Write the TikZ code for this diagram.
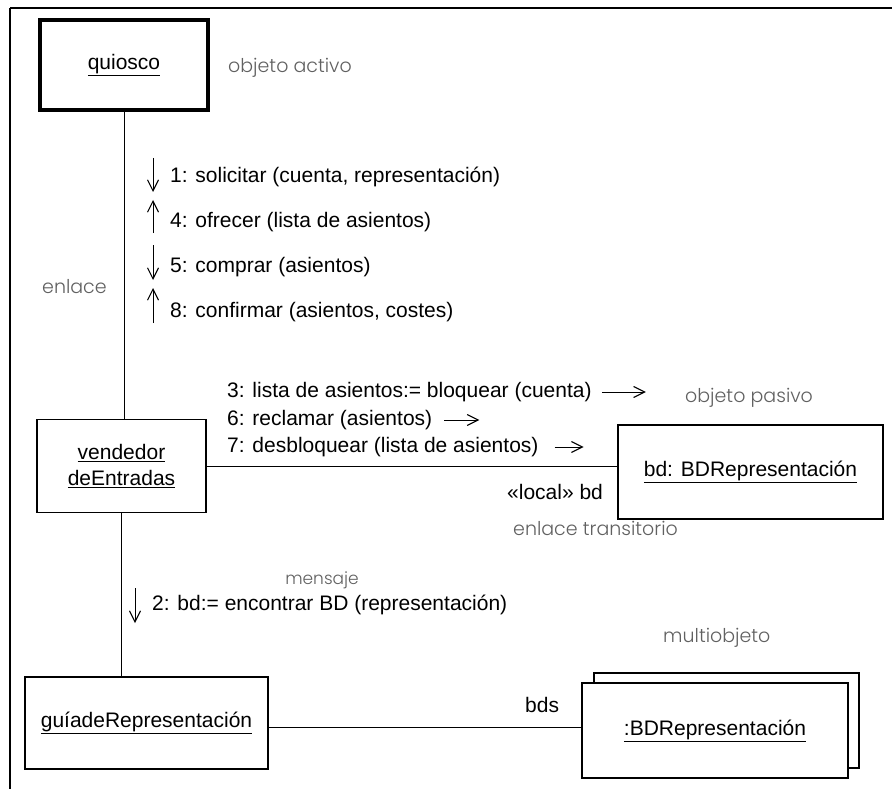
\documentclass[tikz,border=0pt]{standalone}
\usepackage{fontspec}
\setmainfont{Liberation Sans}
\newfontfamily\notefont{Poppins Light}
\usetikzlibrary{arrows.meta,calc}
\begin{document}
\begin{tikzpicture}[x=1pt,y=-1pt,
  obj/.style={draw,line width=1.1pt,inner sep=0pt,font=\fontsize{21}{26}\selectfont},
  msg/.style={anchor=west,inner sep=0pt,font=\fontsize{21}{24}\selectfont},
  note/.style={anchor=west,inner sep=0pt,text=black!62,font=\notefont\fontsize{19}{22}\selectfont},
  link/.style={line width=1pt},
  flow/.style={line width=1pt,-{Straight Barb[length=11pt,width=11pt,line width=1.1pt]}},
]
\useasboundingbox (0,0) rectangle (892,789);
\fill[white] (0,0) rectangle (892,789);

% page frame
\draw[line width=2pt] (10,8) -- (892,8);
\draw[line width=1.4pt] (10,8) -- (10,789);

% objects
\node[obj,line width=3.8pt,minimum width=168pt,minimum height=90pt] (kiosk) at (124,65) {\underline{quiosco}};
\node[obj,minimum width=169pt,minimum height=93pt,align=center] (seller) at (121.5,466) {\underline{vendedor}\\\underline{deEntradas}};
\node[obj,minimum width=265pt,minimum height=94pt] (db) at (750.5,472) {\underline{bd: BDRepresentación}};
\node[obj,minimum width=243pt,minimum height=92pt] (guide) at (146.5,723) {\underline{guíadeRepresentación}};
\node[draw,line width=1.1pt,minimum width=265pt,minimum height=95pt] (dbsBack) at (726.5,720.5) {};
\node[obj,fill=white,minimum width=266pt,minimum height=95pt] (dbsFront) at (715,730.5) {\underline{:BDRepresentación}};

% links
\draw[link] (kiosk.south) -- (kiosk.south |- seller.north);
\draw[link] (seller.east) -- (seller.east -| db.west);
\draw[link] (seller.south) -- (seller.south |- guide.north);
\draw[link] ([yshift=-4pt]guide.east) -- ([yshift=-4pt]guide.east -| dbsFront.west);

% annotations
\node[note] (activeNote) at (228,68) {objeto activo};
\node[note] (linkNote) at (42,287) {enlace};
\node[note] (passiveNote) at (685,398) {objeto pasivo};
\node[note] (transientNote) at (513,528) {enlace transitorio};
\node[note,anchor=center,font=\notefont\fontsize{17}{20}\selectfont] (messageNote) at (322,580) {mensaje};
\node[note] (multiNote) at (663,638) {multiobjeto};
\node[msg] (localRole) at (507,492) {«local» bd};
\node[msg] (dbsRole) at (525,705) {bds};

% messages along kiosk -- seller
\node[msg] (m1) at (170,177) {1: solicitar (cuenta, representación)};
\node[msg] (m4) at (170,222) {4: ofrecer (lista de asientos)};
\node[msg] (m5) at (170,267) {5: comprar (asientos)};
\node[msg] (m8) at (170,312) {8: confirmar (asientos, costes)};
\draw[flow] ([xshift=-17pt,yshift=19pt]m1.west) -- ([xshift=-17pt,yshift=-15pt]m1.west);
\draw[flow] ([xshift=-17pt,yshift=-11pt]m4.west) -- ([xshift=-17pt,yshift=22pt]m4.west);
\draw[flow] ([xshift=-17pt,yshift=22pt]m5.west) -- ([xshift=-17pt,yshift=-13pt]m5.west);
\draw[flow] ([xshift=-17pt,yshift=-11pt]m8.west) -- ([xshift=-17pt,yshift=24pt]m8.west);

% messages along seller -- db
\node[msg] (m3) at (227,392) {3: lista de asientos:= bloquear (cuenta)};
\node[msg] (m6) at (227,420) {6: reclamar (asientos)};
\node[msg] (m7) at (227,447) {7: desbloquear (lista de asientos)};
\draw[flow] ([xshift=10pt]m3.east) -- ([xshift=54pt]m3.east);
\draw[flow] ([xshift=12pt]m6.east) -- ([xshift=47pt]m6.east);
\draw[flow] ([xshift=16pt]m7.east) -- ([xshift=45pt]m7.east);

% message along seller -- guide
\node[msg] (m2) at (152,605) {2: bd:= encontrar BD (representación)};
\draw[flow] ([xshift=-17pt,yshift=17pt]m2.west) -- ([xshift=-17pt,yshift=-18pt]m2.west);
\end{tikzpicture}
\end{document}
